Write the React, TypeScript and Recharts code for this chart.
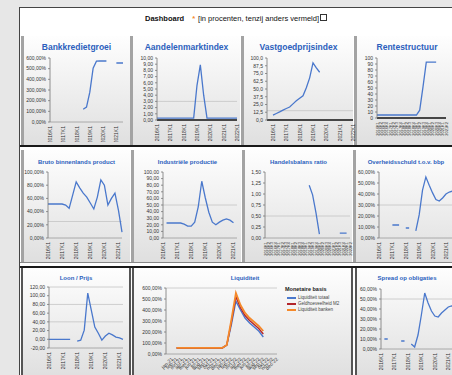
import React from "react";
import { LineChart, Line, XAxis, YAxis, ReferenceLine } from "recharts";

const FONT = "'Liberation Sans', Arial, sans-serif";
const BLUE = "#4a78cc";
const ORANGE = "#f5892a";
const RED = "#b3262c";
const TITLE_BLUE = "#2c5fbd";

// ---------- tick labels ----------
const QUARTERS = [
  "2016K1", "2016K2", "2016K3", "2016K4", "2017K1", "2017K2", "2017K3", "2017K4",
  "2018K1", "2018K2", "2018K3", "2018K4", "2019K1", "2019K2", "2019K3", "2019K4",
  "2020K1", "2020K2", "2020K3", "2020K4", "2021K1", "2021K2", "2021K3", "2021K4",
  "2022K1", "2022K2", "2022K3", "2022K4",
];
const MONTHS = [
  "jan-21", "feb-21", "mrt-21", "apr-21", "mei-21", "jun-21", "jul-21", "aug-21",
  "sep-21", "okt-21", "nov-21", "dec-21", "jan-22", "feb-22", "mrt-22", "apr-22",
  "mei-22", "jun-22", "jul-22", "aug-22", "sep-22", "okt-22", "nov-22", "dec-22",
];

// ---------- titles ----------
const MAIN_TITLE = "Dashboard";
const MAIN_NOTE = "[in procenten, tenzij anders vermeld]";
const TITLES_ROW1 = ["Bankkredietgroei", "Aandelenmarktindex", "Vastgoedprijsindex", "Rentestructuur"];
const TITLES_ROW2 = ["Bruto binnenlands product", "Industriële productie", "Handelsbalans ratio", "Overheidsschuld t.o.v. bbp"];
const TITLES_ROW3 = ["Loon / Prijs", "Liquiditeit", "Spread op obligaties"];
const LIQ_LEGEND_TITLE = "Monetaire basis";
const LIQ_SERIES_NAMES = ["Liquiditeit totaal", "Geldhoeveelheid M2", "Liquiditeit banken"];
const LIQ_COLORS = [BLUE, RED, ORANGE];

// ---------- series values ----------
const BANK_CREDIT = [null, null, null, null, null, null, null, null, null, null, 120, 140, 280, 505, 570, 572, 572, 572, null, null, 553, 553, 553];
const EQUITY_INDEX = [0.3, 0.3, 0.3, 0.3, 0.3, 0.3, 0.3, 0.3, 0.3, 0.3, 0.3, 0.3, 5.6, 8.9, 4.0, 0.3, 0.3, 0.3, 0.3, 0.3, 0.3, 0.3, 0.3, 0.3, 0.3];
const HOUSE_PRICES = [8, 10.5, 13, 16, 18.5, 21, 26, 31, 35, 39, 52, 68, 92, 84, 77, null, null, null, null, null, null, null, null, null, null];
const RATE_STRUCTURE = [5, 5, 5, 5, 5, 5, 5, 5, 5, 5, 5, 5, 5, 13, 52, 93, 93, 93, 93, null, null, null];
const GDP = [51.5, 51.5, 51.5, 51.5, 51.5, 50, 45, 65, 85, 76, 68, 62, 53, 44, 62, 88, 80, 50, 60, 68, 42, 9];
const INDUSTRY = [null, 22.7, 22.7, 22.7, 22.7, 22.7, 21, 18, 18, 24, 47, 86, 61, 39, 24, 20, 24, 27, 29, 27, 23, null];
const TRADE_RATIO = [null, null, null, null, null, null, null, null, null, null, null, null, null, 1.2, 0.98, 0.57, 0.09, null, null, null, null, null, 0.11, 0.11, 0.11, null];
const GOV_DEBT = [null, null, null, null, 11.8, 11.8, 11.8, null, 9.1, 9.1, null, 6.4, 21, 43.6, 55.5, 48, 41, 35, 33.6, 36.4, 40, 41.8, 42.7, 43.6];
const WAGE_PRICE = [0, 0, 0, 0, 0, 0, 0, null, -4, -2, 21, 106, 67, 28, 14, -2, 7.5, 14, 10, 5, 3, 0];
const LIQ_TOTAL = [null, 55, 55, 55, 55, 55, 55, 55, 55, 55, 55, 55, 82, 264, 480, 400, 327, 282, 245, 209, 155, null, null, null];
const LIQ_M2 = [null, 55, 55, 55, 55, 55, 55, 55, 55, 55, 55, 55, 82, 290, 520, 420, 350, 305, 268, 232, 182, null, null, null];
const LIQ_BANKS = [null, 55, 55, 55, 55, 55, 55, 55, 55, 55, 55, 55, 82, 309, 555, 445, 373, 327, 291, 255, 209, null, null, null];
const SPREAD = [null, 10, 10, null, null, null, 8, 8, null, 5, 2, 14, 34, 56, 46, 38, 33, 32, 36, 39, 42, 43, 43];

// ---------- y ticks ----------
const TICKS_BANK = [0, 100, 200, 300, 400, 500, 600];
const TICKS_EQUITY = [0, 1, 2, 3, 4, 5, 6, 7, 8, 9, 10];
const TICKS_HOUSE = [0, 12.5, 25, 37.5, 50, 62.5, 75, 87.5, 100];
const TICKS_RATE = [0, 10, 20, 30, 40, 50, 60, 70, 80, 90, 100];
const TICKS_GDP = [0, 20, 40, 60, 80, 100];
const TICKS_INDUSTRY = [0, 10, 20, 30, 40, 50, 60, 70, 80, 90, 100];
const TICKS_TRADE = [0, 0.25, 0.5, 0.75, 1, 1.25, 1.5];
const TICKS_DEBT = [0, 10, 20, 30, 40, 50, 60];
const TICKS_WAGE = [-20, 0, 20, 40, 60, 80, 100, 120];
const TICKS_LIQ = [0, 100, 200, 300, 400, 500, 600];
const TICKS_SPREAD = [0, 10, 20, 30, 40, 50, 60];

const pct2 = (v: number) => v.toFixed(2).replace(".", ",") + "%";
const num1 = (v: number) => v.toFixed(1).replace(".", ",");
const num2 = (v: number) => v.toFixed(2).replace(".", ",");
const int0 = (v: number) => String(v);

type Series = { key: string; color: string; w?: number };
type Cfg = {
  pl: number; pr: number; pt: number; pb: number; yw: number; xh: number;
  data: any[]; series: Series[]; domain: [number, number]; ticks: number[];
  fmt: (v: number) => string; xi: number; angle?: number; black?: boolean;
  refs?: number[]; padLeft?: number; tickFont?: number;
};

const build = (labels: string[], cols: Record<string, (number | null)[]>) =>
  labels.map((label, i) => {
    const row: any = { label };
    Object.keys(cols).forEach((k) => (row[k] = cols[k][i]));
    return row;
  });

function RotTick(props: any) {
  const { x, y, payload, angle, fontSize } = props;
  return (
    <text
      x={x}
      y={y}
      transform={`rotate(${angle} ${x} ${y})`}
      textAnchor="end"
      dominantBaseline="central"
      fontSize={fontSize}
      fill="#333"
      fontFamily={FONT}
    >
      {payload.value}
    </text>
  );
}

function MiniChart({ cfg }: { cfg: Cfg }) {
  const mt = 3;
  const mr = 4;
  const left = cfg.pl - cfg.yw;
  const top = cfg.pt - mt;
  const width = cfg.pr - cfg.pl + cfg.yw + mr;
  const height = cfg.pb - cfg.pt + mt + cfg.xh;
  const angle = cfg.angle ?? -90;
  const tf = cfg.tickFont ?? 5;
  return (
    <div style={{ position: "absolute", left, top }}>
      <LineChart width={width} height={height} data={cfg.data} margin={{ top: mt, right: mr, left: 0, bottom: 0 }}>
        <XAxis
          dataKey="label"
          interval={cfg.xi}
          height={cfg.xh}
          tickLine={false}
          tickSize={2}
          axisLine={{ stroke: cfg.black ? "#111" : "#999", strokeWidth: cfg.black ? 1.6 : 0.8 }}
          tick={(p: any) => <RotTick {...p} angle={angle} fontSize={tf} />}
          padding={{ left: cfg.padLeft ?? 0, right: 0 }}
        />
        <YAxis
          width={cfg.yw}
          domain={cfg.domain}
          ticks={cfg.ticks}
          interval={0}
          allowDataOverflow
          tickFormatter={cfg.fmt}
          tick={{ fontSize: 5, fill: "#333", fontFamily: FONT }}
          tickSize={2}
          axisLine={{ stroke: "#777", strokeWidth: 0.8 }}
          tickLine={{ stroke: "#777", strokeWidth: 0.8 }}
        />
        {(cfg.refs ?? []).map((r) => (
          <ReferenceLine key={r} y={r} stroke="#c4c4c4" strokeWidth={0.8} />
        ))}
        {cfg.series.map((s) => (
          <Line
            key={s.key}
            dataKey={s.key}
            stroke={s.color}
            strokeWidth={s.w ?? 1.3}
            dot={false}
            type="linear"
            connectNulls={false}
            isAnimationActive={false}
          />
        ))}
      </LineChart>
    </div>
  );
}

const blue = [{ key: "v", color: BLUE }];

const CHARTS: Cfg[] = [
  { pl: 50, pr: 123, pt: 58, pb: 122, yw: 27, xh: 20, data: build(QUARTERS.slice(0, 23), { v: BANK_CREDIT }), series: blue, domain: [0, 600], ticks: TICKS_BANK, fmt: pct2, xi: 3 },
  { pl: 157, pr: 237, pt: 58, pb: 120, yw: 22, xh: 22, data: build(QUARTERS.slice(0, 25), { v: EQUITY_INDEX }), series: blue, domain: [0, 10], ticks: TICKS_EQUITY, fmt: num2, xi: 3, black: true, refs: [3] },
  { pl: 267, pr: 353, pt: 58, pb: 120, yw: 20, xh: 22, data: build(QUARTERS.slice(0, 25), { v: HOUSE_PRICES }), series: blue, domain: [0, 100], ticks: TICKS_HOUSE, fmt: num1, xi: 3, black: true, refs: [15], padLeft: 6 },
  { pl: 377, pr: 446, pt: 58, pb: 118, yw: 20, xh: 24, data: build(QUARTERS.slice(0, 22), { v: RATE_STRUCTURE }), series: blue, domain: [0, 100], ticks: TICKS_RATE, fmt: int0, xi: 0, black: true, tickFont: 4 },
  { pl: 48, pr: 122, pt: 172, pb: 238, yw: 24, xh: 22, data: build(QUARTERS.slice(0, 22), { v: GDP }), series: blue, domain: [0, 100], ticks: TICKS_GDP, fmt: pct2, xi: 3, refs: [25] },
  { pl: 163, pr: 237, pt: 172, pb: 238, yw: 26, xh: 22, data: build(QUARTERS.slice(0, 22), { v: INDUSTRY }), series: blue, domain: [0, 100], ticks: TICKS_INDUSTRY, fmt: num2, xi: 3, refs: [50] },
  { pl: 265, pr: 350, pt: 172, pb: 238, yw: 16, xh: 22, data: build(QUARTERS.slice(0, 26), { v: TRADE_RATIO }), series: blue, domain: [0, 1.5], ticks: TICKS_TRADE, fmt: num2, xi: 0, refs: [0.5], tickFont: 4 },
  { pl: 379, pr: 456, pt: 172, pb: 238, yw: 22, xh: 22, data: build(QUARTERS.slice(0, 24), { v: GOV_DEBT }), series: blue, domain: [0, 60], ticks: TICKS_DEBT, fmt: pct2, xi: 3, refs: [30] },
  { pl: 49, pr: 123, pt: 287, pb: 348, yw: 25, xh: 24, data: build(QUARTERS.slice(0, 22), { v: WAGE_PRICE }), series: blue, domain: [-20, 120], ticks: TICKS_WAGE, fmt: num2, xi: 3, refs: [120, 80, 40] },
  {
    pl: 166, pr: 277, pt: 288, pb: 354, yw: 29, xh: 20,
    data: build(MONTHS, { a: LIQ_TOTAL, b: LIQ_M2, c: LIQ_BANKS }),
    series: [{ key: "a", color: BLUE, w: 1.4 }, { key: "b", color: RED, w: 1.4 }, { key: "c", color: ORANGE, w: 1.8 }],
    domain: [0, 600], ticks: TICKS_LIQ, fmt: pct2, xi: 0, angle: -45, refs: [600], padLeft: 6,
  },
  { pl: 381, pr: 455, pt: 289, pb: 349, yw: 23, xh: 24, data: build(QUARTERS.slice(0, 23), { v: SPREAD }), series: blue, domain: [0, 60], ticks: TICKS_SPREAD, fmt: pct2, xi: 3, refs: [50] },
];

const abs = (s: React.CSSProperties): React.CSSProperties => ({ position: "absolute", ...s });
const panelBg = "linear-gradient(#fefefe, #dfdfdf)";

function Title({ x, w, y, text, size }: { x: number; w: number; y: number; text: string; size: number }) {
  return (
    <div style={abs({ left: x, top: y, width: w, textAlign: "center", color: TITLE_BLUE, fontWeight: "bold", fontSize: size, lineHeight: 1, whiteSpace: "nowrap", overflow: "hidden" })}>
      {text}
    </div>
  );
}

export default function App() {
  const row1 = [[23, 107], [133, 107], [244, 109], [357, 100]];
  const row2 = [[23, 107], [134, 107], [245, 107], [356, 100]];
  const seps1 = [21, 130, 241, 354];
  const seps2 = [21, 131, 242, 353];
  return (
    <div style={abs({ left: 0, top: 0, width: 452, height: 375, overflow: "hidden", background: "#e7e7e7", fontFamily: FONT })}>
      {/* page */}
      <div style={abs({ left: 19, top: 7, width: 440, height: 380, background: "#ffffff", borderTop: "1px solid #444", borderLeft: "1px solid #444" })} />
      {/* main title */}
      <div style={abs({ left: 20, top: 14, width: 432, textAlign: "center", fontSize: 7.5, lineHeight: 1, whiteSpace: "nowrap", color: "#111" })}>
        <span style={{ fontWeight: "bold" }}>{MAIN_TITLE}</span>
        <span style={{ color: ORANGE, fontWeight: "bold", marginLeft: 8, marginRight: 3 }}>*</span>
        <span style={{ color: "#111" }}>{MAIN_NOTE}</span>
        <span style={{ display: "inline-block", width: 5, height: 5, border: "1px solid #333", marginLeft: 1 }} />
      </div>

      {/* row 1 */}
      {row1.map(([x, w], i) => (
        <div key={"p1" + i} style={abs({ left: x, top: 36, width: w, height: 110, background: panelBg })} />
      ))}
      {seps1.map((x, i) => (
        <div key={"s1" + i} style={abs({ left: x, top: 36, width: 3, height: 110, background: "#a3a3a3" })} />
      ))}
      <div style={abs({ left: 20, top: 145, width: 440, height: 2, background: "#1a1a1a" })} />
      {TITLES_ROW1.map((t, i) => (
        <Title key={"t1" + i} x={row1[i][0]} w={row1[i][1]} y={43} text={t} size={8.5} />
      ))}

      {/* row 2 */}
      {row2.map(([x, w], i) => (
        <div key={"p2" + i} style={abs({ left: x, top: 150, width: w, height: 112, background: panelBg })} />
      ))}
      {seps2.map((x, i) => (
        <div key={"s2" + i} style={abs({ left: x, top: 150, width: 3, height: 112, background: "#a3a3a3" })} />
      ))}
      <div style={abs({ left: 20, top: 262, width: 440, height: 1, background: "#888" })} />
      {TITLES_ROW2.map((t, i) => (
        <Title key={"t2" + i} x={row2[i][0]} w={row2[i][1]} y={159} text={t} size={6} />
      ))}

      {/* row 3 */}
      <div style={abs({ left: 20, top: 266, width: 440, height: 2, background: "#1a1a1a" })} />
      <div style={abs({ left: 21, top: 268, width: 110, height: 110, background: panelBg, borderLeft: "2px solid #555", borderRight: "2px solid #555", boxSizing: "border-box" })} />
      <div style={abs({ left: 132, top: 268, width: 221, height: 110, background: panelBg, borderLeft: "2px solid #555", borderRight: "2px solid #555", boxSizing: "border-box" })} />
      <div style={abs({ left: 355, top: 268, width: 110, height: 110, background: panelBg, borderLeft: "2px solid #555", boxSizing: "border-box" })} />
      <Title x={22} w={108} y={275} text={TITLES_ROW3[0]} size={6} />
      <Title x={190} w={110} y={275} text={TITLES_ROW3[1]} size={6} />
      <Title x={357} w={100} y={275} text={TITLES_ROW3[2]} size={6} />

      {/* liquidity legend */}
      <div style={abs({ left: 285, top: 286, fontSize: 5.5, fontWeight: "bold", color: "#222", whiteSpace: "nowrap" })}>{LIQ_LEGEND_TITLE}</div>
      {LIQ_SERIES_NAMES.map((n, i) => (
        <div key={n} style={abs({ left: 287, top: 295 + i * 6, fontSize: 4.5, color: "#444", whiteSpace: "nowrap", display: "flex", alignItems: "center" })}>
          <span style={{ display: "inline-block", width: 9, height: 2, background: LIQ_COLORS[i], marginRight: 2 }} />
          {n}
        </div>
      ))}

      {CHARTS.map((c, i) => (
        <MiniChart key={i} cfg={c} />
      ))}
    </div>
  );
}
